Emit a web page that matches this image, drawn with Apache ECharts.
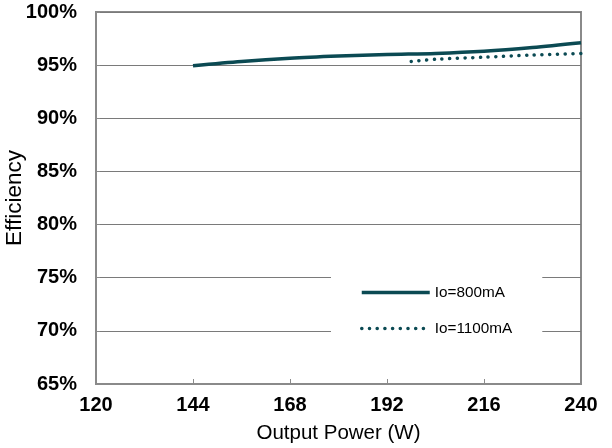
<!DOCTYPE html>
<html>
<head>
<meta charset="utf-8">
<script src="https://cdn.jsdelivr.net/npm/echarts@6/dist/echarts.min.js"></script>
<style>html,body{margin:0;padding:0;background:#fff}#c{width:612px;height:448px}</style>
</head>
<body>
<div id="c"></div>
<script>
const xTicks = [120, 144, 168, 192, 216, 240];
const yTicks = [65, 70, 75, 80, 85, 90, 95, 100];
const io800X = [144, 156, 168, 180, 192, 204, 216, 228, 240];
const io800Y = [94.95, 95.35, 95.65, 95.85, 96.0, 96.1, 96.3, 96.65, 97.1];
const io1100X = [198, 204, 216, 228, 240];
const io1100Y = [95.35, 95.55, 95.75, 95.95, 96.1];
const seriesNames = ['Io=800mA', 'Io=1100mA'];

const lineColor = '#0b4a53';
const font = 'Liberation Sans, Arial, sans-serif';
const chart = echarts.init(document.getElementById('c'), null, {renderer: 'canvas'});
chart.setOption({
  animation: false,
  backgroundColor: '#fff',
  grid: {left: 96, right: 31, top: 12, bottom: 64, containLabel: false, outerBoundsMode: 'none',
         show: true, borderColor: '#8a8a8a', borderWidth: 2, backgroundColor: 'transparent'},
  xAxis: {
    type: 'value', min: xTicks[0], max: xTicks[xTicks.length - 1], interval: 24,
    name: 'Output Power (W)', nameLocation: 'middle', nameGap: 39, nameMoveOverlap: false,
    nameTextStyle: {fontFamily: font, fontSize: 20.5, color: '#000'},
    axisLine: {show: true, lineStyle: {color: '#8a8a8a', width: 2}},
    axisTick: {show: true, inside: true, length: 5, lineStyle: {color: '#8a8a8a'}},
    axisLabel: {fontFamily: font, fontSize: 20, fontWeight: 'bold', color: '#000', margin: 11},
    splitLine: {show: false}
  },
  yAxis: {
    type: 'value', min: yTicks[0], max: yTicks[yTicks.length - 1], interval: 5,
    name: 'Efficiency', nameLocation: 'middle', nameGap: 70, nameMoveOverlap: false,
    nameTextStyle: {fontFamily: font, fontSize: 22.5, color: '#000'},
    axisLine: {show: true, lineStyle: {color: '#8a8a8a', width: 2}},
    axisTick: {show: true, inside: true, length: 4, lineStyle: {color: '#8a8a8a'}},
    axisLabel: {fontFamily: font, fontSize: 20, fontWeight: 'bold', color: '#000', margin: 19, formatter: '{value}%'},
    splitLine: {show: true, lineStyle: {color: '#7a7a7a', width: 1}}
  },
  legend: {
    orient: 'vertical', left: 331, top: 273,
    backgroundColor: '#fff', padding: [12, 30, 12, 29],
    itemWidth: 68, itemHeight: 14, itemGap: 21,
    itemStyle: {opacity: 0, borderWidth: 0},
    lineStyle: {width: 3.5},
    textStyle: {fontFamily: font, fontSize: 15.3, color: '#000'},
    data: seriesNames
  },
  series: [
    {
      name: seriesNames[0], type: 'line', smooth: 0.3, symbol: 'none', showSymbol: false,
      data: io800X.map((x, i) => [x, io800Y[i]]),
      lineStyle: {color: lineColor, width: 3.5}, itemStyle: {color: lineColor}
    },
    {
      name: seriesNames[1], type: 'line', smooth: 0.3, symbol: 'none', showSymbol: false,
      data: io1100X.map((x, i) => [x, io1100Y[i]]),
      lineStyle: {color: lineColor, width: 3.5, type: [0.1, 7.6], cap: 'round'}, itemStyle: {color: lineColor}
    }
  ]
});
</script>
</body>
</html>
